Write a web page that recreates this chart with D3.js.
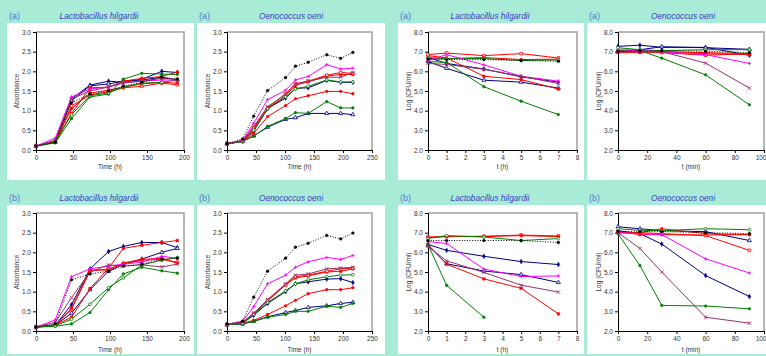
<!DOCTYPE html>
<html>
<head>
<meta charset="utf-8">
<script src="https://cdn.jsdelivr.net/npm/d3@7"></script>
<style>
 body { margin: 0; background: #a8ecd8; }
 svg { display: block; font-family: "Liberation Sans", Arial, sans-serif; }
</style>
</head>
<body>
<div id="fig"></div>
<script>
// sampling times
var xGrowthLh = [0, 26, 48, 73, 98, 118, 143, 170, 191];
var xGrowthOo = [0, 27, 46, 70, 101, 118, 140, 172, 196, 217];
var xSurvLh = [0, 1, 3, 5, 7];
var xSurvOo = [0, 15, 30, 60, 90];

// series order: control, navy1, navy2, red1, red2, red3, green1, green2, magenta, mauve
var seriesKeys = ["control", "navy1", "navy2", "red1", "red2", "red3", "green1", "green2", "magenta", "mauve"];

// (a) L. hilgardii, absorbance
var absLhA = [
 [0.1, 0.2, 1.2, 1.42, 1.5, 1.62, 1.72, 1.85, 1.8],
 [0.1, 0.22, 1.3, 1.65, 1.75, 1.72, 1.8, 2.0, 1.97],
 [0.1, 0.2, 1.25, 1.63, 1.68, 1.75, 1.78, 1.85, 1.78],
 [0.1, 0.2, 0.93, 1.58, 1.6, 1.75, 1.82, 1.87, 1.98],
 [0.1, 0.2, 1.12, 1.4, 1.48, 1.58, 1.62, 1.7, 1.66],
 [0.1, 0.22, 1.05, 1.45, 1.52, 1.6, 1.68, 1.72, 1.7],
 [0.1, 0.18, 0.8, 1.35, 1.42, 1.8, 1.95, 1.93, 1.92],
 [0.1, 0.2, 0.9, 1.38, 1.45, 1.6, 1.7, 1.72, 1.78],
 [0.1, 0.3, 1.35, 1.55, 1.6, 1.72, 1.75, 1.78, 1.78],
 [0.1, 0.25, 1.3, 1.5, 1.6, 1.7, 1.75, 1.82, 1.8]
];

// (a) O. oeni, absorbance
var absOoA = [
 [0.16, 0.28, 0.86, 1.51, 1.84, 2.13, 2.23, 2.42, 2.33, 2.48],
 [0.16, 0.22, 0.48, 1.05, 1.32, 1.57, 1.58, 1.77, 1.72, 1.72],
 [0.16, 0.22, 0.36, 0.58, 0.78, 0.82, 0.93, 0.93, 0.93, 0.9],
 [0.16, 0.22, 0.55, 1.05, 1.38, 1.65, 1.73, 1.88, 1.92, 1.92],
 [0.16, 0.22, 0.56, 1.07, 1.43, 1.68, 1.75, 1.9, 1.97, 1.95],
 [0.16, 0.22, 0.42, 0.85, 1.13, 1.3, 1.38, 1.49, 1.49, 1.43],
 [0.16, 0.22, 0.35, 0.6, 0.8, 0.95, 0.93, 1.23, 1.07, 1.07],
 [0.16, 0.22, 0.5, 1.05, 1.35, 1.55, 1.62, 1.78, 1.73, 1.73],
 [0.16, 0.25, 0.68, 1.28, 1.52, 1.78, 1.87, 2.17, 2.06, 2.08],
 [0.16, 0.24, 0.6, 1.1, 1.42, 1.68, 1.75, 1.85, 1.85, 1.97]
];

// (a) L. hilgardii, log CFU/ml
var cfuLhA = [
 [6.63, 6.6, 6.6, 6.55, 6.51],
 [6.7, 6.4, 6.12, 5.72, 5.45],
 [6.5, 6.15, 5.55, 5.45, 5.15],
 [6.8, 6.68, 5.75, 5.58, 5.1],
 [6.85, 6.93, 6.8, 6.9, 6.68],
 [6.6, 6.65, 6.7, 6.6, 6.62],
 [6.5, 6.45, 5.22, 4.48, 3.8],
 [6.7, 6.65, 6.65, 6.55, 6.58],
 [6.55, 6.85, 6.33, 5.75, 5.5],
 [6.4, 6.35, 6.1, 5.75, 5.38]
];

// (a) O. oeni, log CFU/ml
var cfuOoA = [
 [7.0, 7.05, 7.05, 7.02, 6.95],
 [7.27, 7.33, 7.22, 7.22, 6.82],
 [7.05, 7.1, 7.25, 7.2, 7.12],
 [6.95, 6.95, 7.0, 6.9, 6.85],
 [7.0, 7.0, 6.95, 6.82, 6.9],
 [7.0, 7.0, 7.0, 6.95, 6.9],
 [7.05, 7.05, 6.67, 5.82, 4.3],
 [7.2, 7.1, 7.05, 7.1, 7.1],
 [7.1, 7.05, 7.0, 6.85, 6.4],
 [7.0, 7.0, 7.0, 6.42, 5.15]
];

// (b) L. hilgardii, absorbance
var absLhB = [
 [0.1, 0.18, 1.3, 1.45, 1.52, 1.65, 1.7, 1.82, 1.85],
 [0.1, 0.15, 0.67, 1.58, 2.02, 2.15, 2.25, 2.25, 2.12],
 [0.1, 0.15, 0.45, 1.05, 1.52, 1.7, 1.83, 2.0, 2.1],
 [0.1, 0.15, 0.35, 1.08, 1.6, 2.1, 2.18, 2.25, 2.3],
 [0.1, 0.15, 0.55, 1.52, 1.58, 1.7, 1.8, 1.82, 1.75],
 [0.1, 0.15, 0.58, 1.55, 1.55, 1.73, 1.82, 1.85, 1.72],
 [0.1, 0.12, 0.18, 0.47, 1.05, 1.45, 1.62, 1.53, 1.47],
 [0.1, 0.13, 0.3, 0.68, 1.1, 1.35, 1.68, 1.8, 1.87],
 [0.1, 0.28, 1.38, 1.58, 1.65, 1.7, 1.75, 1.9, 1.85],
 [0.1, 0.22, 0.85, 1.5, 1.68, 1.65, 1.68, 1.63, 1.7]
];

// (b) O. oeni, absorbance
var absOoB = [
 [0.18, 0.25, 0.86, 1.52, 1.85, 2.13, 2.23, 2.43, 2.34, 2.49],
 [0.16, 0.2, 0.4, 0.7, 1.0, 1.2, 1.25, 1.32, 1.33, 1.23],
 [0.16, 0.18, 0.25, 0.36, 0.47, 0.52, 0.6, 0.64, 0.7, 0.73],
 [0.16, 0.22, 0.43, 0.77, 1.17, 1.35, 1.4, 1.5, 1.52, 1.58],
 [0.16, 0.22, 0.45, 0.78, 1.18, 1.38, 1.42, 1.52, 1.58, 1.6],
 [0.16, 0.2, 0.27, 0.42, 0.64, 0.78, 0.95, 1.05, 1.05, 1.1],
 [0.16, 0.18, 0.24, 0.35, 0.42, 0.5, 0.5, 0.63, 0.6, 0.7],
 [0.16, 0.2, 0.42, 0.72, 1.02, 1.2, 1.3, 1.38, 1.42, 1.43],
 [0.16, 0.25, 0.62, 1.2, 1.42, 1.62, 1.76, 1.87, 1.82, 1.92],
 [0.16, 0.22, 0.45, 0.8, 1.2, 1.42, 1.45, 1.58, 1.6, 1.62]
];

// (b) L. hilgardii, log CFU/ml
var cfuLhB = [
 [6.6, 6.6, 6.6, 6.6, 6.5],
 [6.4, 6.1, 5.8, 5.53, 5.38],
 [6.35, 5.42, 5.05, 4.87, 4.47],
 [6.4, 5.4, 4.65, 4.17, 2.87],
 [6.78, 6.8, 6.82, 6.88, 6.83],
 [6.75, 6.8, 6.8, 6.85, 6.8],
 [6.4, 4.32, 2.7, null, null],
 [6.7, 6.85, 6.78, 6.6, 6.7],
 [6.55, 6.45, 5.15, 4.77, 4.8],
 [6.3, 5.57, 4.98, 4.33, 3.98]
];

// (b) O. oeni, log CFU/ml
var cfuOoB = [
 [7.05, 7.05, 7.05, 7.0, 6.95],
 [7.1, 6.95, 6.42, 4.82, 3.75],
 [7.3, 7.2, 7.1, 7.05, 6.6],
 [7.05, 6.9, 6.9, 6.88, 6.9],
 [7.0, 7.0, 6.95, 6.85, 6.1],
 [7.0, 7.0, 7.2, 6.95, 6.9],
 [6.95, 5.33, 3.3, 3.27, 3.13],
 [7.2, 7.12, 7.1, 7.2, 7.15],
 [7.0, 6.95, 6.9, 5.67, 4.95],
 [7.0, 6.2, 5.0, 2.7, 2.4]
];

// line / marker style for each series
var styles = {
 control: { color: "#000000", sym: "circle", fill: true, dash: "1,1.6" },
 navy1: { color: "#000080", sym: "diamond", fill: true },
 navy2: { color: "#000080", sym: "triangle", fill: false },
 red1: { color: "#ff0000", sym: "square", fill: true },
 red2: { color: "#ff0000", sym: "square", fill: false },
 red3: { color: "#ff0000", sym: "circle", fill: true },
 green1: { color: "#008000", sym: "circle", fill: true },
 green2: { color: "#008000", sym: "circle", fill: false },
 magenta: { color: "#ff00ff", sym: "plus", fill: false },
 mauve: { color: "#993366", sym: "cross", fill: false }
};

var W = 766, H = 356;
var cols = [[7, 194], [197, 385], [398, 584], [587, 766]];
var rows = [{ top: 23, bottom: 180, head: 16, p0: 32, p1: 150, xt: 169 },
            { top: 205, bottom: 354, head: 198, p0: 213, p1: 331, xt: 352 }];
var plotX = [[36, 184], [227, 372], [428, 577], [618, 764]];
var titleX = [99, 291, 490, 683];

var panels = [
 { r: 0, c: 0, lab: "(a)", title: "Lactobacillus hilgardii", xs: xGrowthLh, data: absLhA, kind: "abs", xd: [0, 200], xticks: [0, 50, 100, 150, 200], xlab: "Time (h)" },
 { r: 0, c: 1, lab: "(a)", title: "Oenococcus oeni", xs: xGrowthOo, data: absOoA, kind: "abs", xd: [0, 250], xticks: [0, 50, 100, 150, 200, 250], xlab: "Time (h)" },
 { r: 0, c: 2, lab: "(a)", title: "Lactobacillus hilgardii", xs: xSurvLh, data: cfuLhA, kind: "cfu", xd: [0, 8], xticks: [0, 1, 2, 3, 4, 5, 6, 7, 8], xlab: "t (h)" },
 { r: 0, c: 3, lab: "(a)", title: "Oenococcus oeni", xs: xSurvOo, data: cfuOoA, kind: "cfu", xd: [0, 100], xticks: [0, 20, 40, 60, 80, 100], xlab: "t (min)" },
 { r: 1, c: 0, lab: "(b)", title: "Lactobacillus hilgardii", xs: xGrowthLh, data: absLhB, kind: "abs", xd: [0, 200], xticks: [0, 50, 100, 150, 200], xlab: "Time (h)" },
 { r: 1, c: 1, lab: "(b)", title: "Oenococcus oeni", xs: xGrowthOo, data: absOoB, kind: "abs", xd: [0, 250], xticks: [0, 50, 100, 150, 200, 250], xlab: "Time (h)" },
 { r: 1, c: 2, lab: "(b)", title: "Lactobacillus hilgardii", xs: xSurvLh, data: cfuLhB, kind: "cfu", xd: [0, 8], xticks: [0, 1, 2, 3, 4, 5, 6, 7, 8], xlab: "t (h)" },
 { r: 1, c: 3, lab: "(b)", title: "Oenococcus oeni", xs: xSurvOo, data: cfuOoB, kind: "cfu", xd: [0, 100], xticks: [0, 20, 40, 60, 80, 100], xlab: "t (min)" }
];

var svg = d3.select("#fig").append("svg")
 .attr("width", W)
 .attr("height", H);

svg.append("rect").attr("width", W).attr("height", H).attr("fill", "#a8ecd8");

function marker(g, sym, cx, cy, color, fill) {
 if (sym == "plus" || sym == "cross") {
   var s = 1.7;
   var p = sym == "plus"
     ? "M" + (-s) + ",0H" + s + "M0," + (-s) + "V" + s
     : "M" + (-s) + "," + (-s) + "L" + s + "," + s + "M" + (-s) + "," + s + "L" + s + "," + (-s);
   g.append("path").attr("d", p).attr("transform", "translate(" + cx + "," + cy + ")")
     .attr("stroke", color).attr("stroke-width", 0.9).attr("fill", "none");
   return;
 }
 var types = { circle: d3.symbolCircle, square: d3.symbolSquare, diamond: d3.symbolDiamond, triangle: d3.symbolTriangle };
 g.append("path")
   .attr("d", d3.symbol().type(types[sym]).size(sym == "circle" ? 6 : 7)())
   .attr("transform", "translate(" + cx + "," + cy + ")")
   .attr("fill", fill ? color : "#fff")
   .attr("stroke", color)
   .attr("stroke-width", fill ? 0.4 : 0.8);
}

panels.forEach(function (p) {
 var row = rows[p.r], col = cols[p.c];
 var g = svg.append("g");

 // white panel box
 g.append("rect")
   .attr("x", col[0]).attr("y", row.top)
   .attr("width", col[1] - col[0]).attr("height", row.bottom - row.top)
   .attr("fill", "#fff");

 // panel letter and organism name
 g.append("text").attr("x", col[0] + 2).attr("y", row.head + 3)
   .attr("font-size", 9).attr("fill", "#5577cc").text(p.lab);
 g.append("text").attr("x", titleX[p.c]).attr("y", row.head + 3)
   .attr("text-anchor", "middle").attr("font-size", 8.3).attr("font-style", "italic")
   .attr("fill", "#3c3cc0").text(p.title);

 var x = d3.scaleLinear().domain(p.xd).range(plotX[p.c]);
 var y = p.kind == "abs"
   ? d3.scaleLinear().domain([0, 3]).range([row.p1, row.p0])
   : d3.scaleLinear().domain([2, 8]).range([row.p1, row.p0]);
 var yticks = p.kind == "abs" ? d3.range(0, 3.01, 0.5) : d3.range(2, 8.01, 1);

 // grey frame on top and right
 g.append("path")
   .attr("d", "M" + x.range()[0] + "," + y.range()[1] + "H" + x.range()[1] + "V" + y.range()[0])
   .attr("fill", "none").attr("stroke", "#a0a0a0").attr("stroke-width", 1.5);

 // axes
 var ax = g.append("g")
   .attr("transform", "translate(0," + row.p1 + ")")
   .call(d3.axisBottom(x).tickValues(p.xticks).tickSize(3).tickPadding(2).tickFormat(d3.format("d")));
 var ay = g.append("g")
   .attr("transform", "translate(" + plotX[p.c][0] + ",0)")
   .call(d3.axisLeft(y).tickValues(yticks).tickSize(3).tickPadding(2).tickFormat(d3.format(".1f")));
 [ax, ay].forEach(function (a) {
   a.selectAll("text").attr("font-size", 6.5).attr("fill", "#333").attr("font-family", "Liberation Sans, Arial, sans-serif");
   a.select(".domain").attr("stroke", "#000");
   a.selectAll(".tick line").attr("stroke", "#000");
 });
 // last x label on the right edge of the page: keep it inside
 if (plotX[p.c][1] + 6 > W) {
   ax.selectAll(".tick:last-of-type text").attr("text-anchor", "end").attr("dx", 2);
 }

 // axis titles
 g.append("text")
   .attr("x", (plotX[p.c][0] + plotX[p.c][1]) / 2).attr("y", row.xt)
   .attr("text-anchor", "middle").attr("font-size", 6.5).attr("fill", "#333").text(p.xlab);
 g.append("text")
   .attr("transform", "translate(" + (plotX[p.c][0] - 17) + "," + ((row.p0 + row.p1) / 2) + ") rotate(-90)")
   .attr("text-anchor", "middle").attr("font-size", 6.5).attr("fill", "#333")
   .text(p.kind == "abs" ? "Absorbance" : "Log (CFU/ml)");

 // series, drawn back to front so the control sits on top
 var line = d3.line()
   .defined(function (d) { return d[1] != null; })
   .x(function (d) { return x(d[0]); })
   .y(function (d) { return y(d[1]); });

 var order = [1, 2, 3, 4, 5, 6, 7, 8, 9, 0];
 order.forEach(function (i) {
   var st = styles[seriesKeys[i]];
   var pts = p.xs.map(function (t, j) { return [t, p.data[i][j]]; });
   g.append("path")
     .datum(pts)
     .attr("d", line)
     .attr("fill", "none")
     .attr("stroke", st.color)
     .attr("stroke-width", 1)
     .attr("stroke-dasharray", st.dash || null);
   pts.forEach(function (d) {
     if (d[1] == null) return;
     marker(g, st.sym, x(d[0]), y(d[1]), st.color, st.fill);
   });
 });
});
</script>
</body>
</html>
